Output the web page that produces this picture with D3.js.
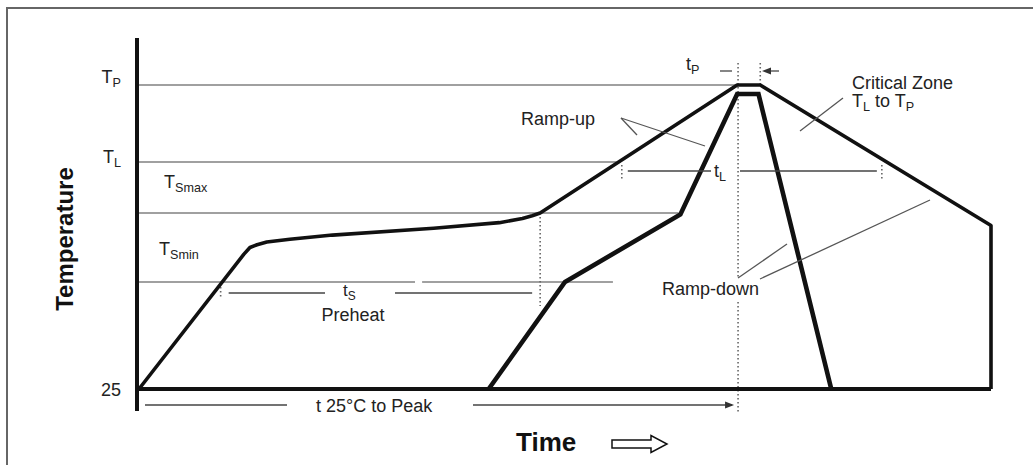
<!DOCTYPE html>
<html>
<head>
<meta charset="utf-8">
<script src="https://cdn.jsdelivr.net/npm/d3@7"></script>
<style>
  body { margin: 0; background: #fff; }
  svg { display: block; font-family: "Liberation Sans", Arial, sans-serif; }
</style>
</head>
<body>
<svg id="chart" width="1033" height="465"></svg>
<script>
// Reflow soldering profile (schematic). time in s, temperature in degC

// reference temperature levels
const levelNames = ["25", "TSmin", "TSmax", "TL", "TP"];
const levelTemps = [25, 150, 200, 217, 260];

// horizontal reference lines: temp level and where they stop (s)
const refTemps = [260, 217, 200, 150];
const refEnds = [337, 269, 304, 267];

// outer (slow) profile
const outerTime = [0, 59, 62.5, 66.5, 72, 85, 109, 166, 203, 216, 221.5, 226, 337, 350, 480, 480];
const outerTemp = [25, 170, 175, 177, 179, 181, 184, 189, 193, 196, 198, 200, 260, 260, 191, 25];

// inner (fast) profile
const innerTime = [197, 240, 305, 337, 349, 390];
const innerTemp = [25, 150, 199, 255, 255, 25];

// time markers
const tsStart = 46, tsEnd = 226;      // preheat
const tlStart = 272, tlEnd = 418.5;   // time above liquidus
const tpStart = 337.5, tpEnd = 350;   // time at peak

const svg = d3.select("#chart");

const x = d3.scaleLinear().domain([0, 480]).range([139, 991]);
// piecewise scale, the drawing is not to scale
const y = d3.scaleLinear().domain(levelTemps).range([389, 282, 213, 162, 85]);

const ink = "#111", grey = "#808080";

// frame (top and left edges only)
svg.append("path")
  .attr("d", "M7,465V8H1033")
  .attr("fill", "none")
  .attr("stroke", "#666")
  .attr("stroke-width", 2);

// reference lines
refTemps.forEach(function (t, i) {
  if (t == 150) {
    // TSmin line has a small break in it
    svg.append("line").attr("x1", x(0)).attr("x2", x(155.5))
      .attr("y1", y(t)).attr("y2", y(t)).attr("stroke", grey).attr("stroke-width", 1.3);
    svg.append("line").attr("x1", x(159.5)).attr("x2", x(refEnds[i]))
      .attr("y1", y(t)).attr("y2", y(t)).attr("stroke", grey).attr("stroke-width", 1.3);
  } else {
    svg.append("line").attr("x1", x(0)).attr("x2", x(refEnds[i]))
      .attr("y1", y(t)).attr("y2", y(t)).attr("stroke", grey).attr("stroke-width", 1.3);
  }
});

// dotted verticals
function dotted(px, y1, y2) {
  svg.append("line")
    .attr("x1", px).attr("x2", px).attr("y1", y1).attr("y2", y2)
    .attr("stroke", "#666").attr("stroke-width", 1.6)
    .attr("stroke-dasharray", "1.5,2.5");
}
dotted(x(tsEnd), 217, 306);
dotted(x(tsStart), 287, 299);
dotted(x(tpStart), 63, 279);
dotted(x(tpStart), 302, 414);
dotted(x(tpEnd), 63, 84);
dotted(x(tlStart), 165, 179);
dotted(x(tlEnd), 165, 179);

// y axis
svg.append("line")
  .attr("x1", 137).attr("x2", 137).attr("y1", 38).attr("y2", 411)
  .attr("stroke", ink).attr("stroke-width", 4);

// baseline at 25 degC
svg.append("line")
  .attr("x1", 137).attr("x2", x(480)).attr("y1", y(25)).attr("y2", y(25))
  .attr("stroke", ink).attr("stroke-width", 4);

const line = d3.line().x((d) => x(d[0])).y((d) => y(d[1]));

svg.append("path")
  .datum(d3.zip(outerTime, outerTemp))
  .attr("d", line)
  .attr("fill", "none")
  .attr("stroke", ink)
  .attr("stroke-width", 3.6)
  .attr("stroke-linejoin", "round");

svg.append("path")
  .datum(d3.zip(innerTime, innerTemp))
  .attr("d", line)
  .attr("fill", "none")
  .attr("stroke", ink)
  .attr("stroke-width", 4.6)
  .attr("stroke-linejoin", "miter");

// text with a subscript, optional tail text and tail subscript
function label(px, py, main, sub, size, anchor, rest, sub2) {
  const t = svg.append("text")
    .attr("x", px).attr("y", py)
    .attr("font-size", size)
    .attr("fill", "#222")
    .attr("text-anchor", anchor || "start");
  t.append("tspan").text(main);
  if (sub) {
    t.append("tspan").attr("font-size", size * 0.7).attr("dy", size * 0.22).text(sub);
  }
  if (rest) {
    t.append("tspan").attr("dy", -size * 0.22).text(rest);
  }
  if (sub2) {
    t.append("tspan").attr("font-size", size * 0.7).attr("dy", size * 0.22).text(sub2);
  }
  return t;
}

// y labels
label(121, y(260) - 2, "T", "P", 18, "end");
label(121, y(217) + 1, "T", "L", 18, "end");
label(121, y(25) + 7, "25", null, 18, "end");
label(164, 188, "T", "Smax", 18);
label(159, 255, "T", "Smin", 18);

// axis titles
svg.append("text")
  .attr("transform", "translate(73,239) rotate(-90)")
  .attr("text-anchor", "middle")
  .attr("font-size", 24)
  .attr("font-weight", "bold")
  .attr("fill", ink)
  .text("Temperature");

svg.append("text")
  .attr("x", 516).attr("y", 451)
  .attr("font-size", 26)
  .attr("font-weight", "bold")
  .attr("fill", ink)
  .text("Time");

svg.append("path")
  .attr("d", "M612,440H651V435.5L667,444L651,452.5V448H612Z")
  .attr("fill", "#fff")
  .attr("stroke", ink)
  .attr("stroke-width", 1.5);

// dimension lines
function seg(x1, x2, py) {
  svg.append("line").attr("x1", x1).attr("x2", x2).attr("y1", py).attr("y2", py)
    .attr("stroke", "#444").attr("stroke-width", 1.3);
}

// ts / preheat
seg(x(tsStart) + 8, 325, 293);
seg(395, x(tsEnd) - 8, 293);
label(343, 296, "t", "S", 17);
svg.append("text").attr("x", 353).attr("y", 321).attr("text-anchor", "middle")
  .attr("font-size", 18).attr("fill", "#222").text("Preheat");

// tL
seg(x(tlStart) + 6, 711, 171);
seg(740, x(tlEnd) - 5, 171);
label(714, 177, "t", "L", 18);

// tP
label(686, 70, "t", "P", 18);
seg(720, 732, 71);
seg(765, 779, 71);
svg.append("path").attr("d", "M762,71L771,67.5V74.5Z").attr("fill", "#333");

// t 25C to peak
seg(145, 287, 405);
seg(473, x(tpStart) - 6, 405);
svg.append("path").attr("d", "M" + (x(tpStart) - 4) + ",405l-9,-3.5v7Z").attr("fill", "#333");
svg.append("text").attr("x", 316).attr("y", 412)
  .attr("font-size", 18).attr("fill", "#222").text("t 25°C to Peak");

// annotations
svg.append("text").attr("x", 521).attr("y", 125)
  .attr("font-size", 18).attr("fill", "#222").text("Ramp-up");
svg.append("text").attr("x", 662).attr("y", 295)
  .attr("font-size", 18).attr("fill", "#222").text("Ramp-down");
svg.append("text").attr("x", 852).attr("y", 89)
  .attr("font-size", 18).attr("fill", "#222").text("Critical Zone");
label(852, 107, "T", "L", 18, "start", " to T", "P");

function leader(x1, y1, x2, y2) {
  svg.append("line").attr("x1", x1).attr("y1", y1).attr("x2", x2).attr("y2", y2)
    .attr("stroke", "#555").attr("stroke-width", 1.3);
}
leader(621, 118, 637, 135);
leader(621, 118, 705, 146);
leader(843, 98, 800, 131);
leader(738, 278, 787, 244);
leader(760, 279, 930, 200);
</script>
</body>
</html>
